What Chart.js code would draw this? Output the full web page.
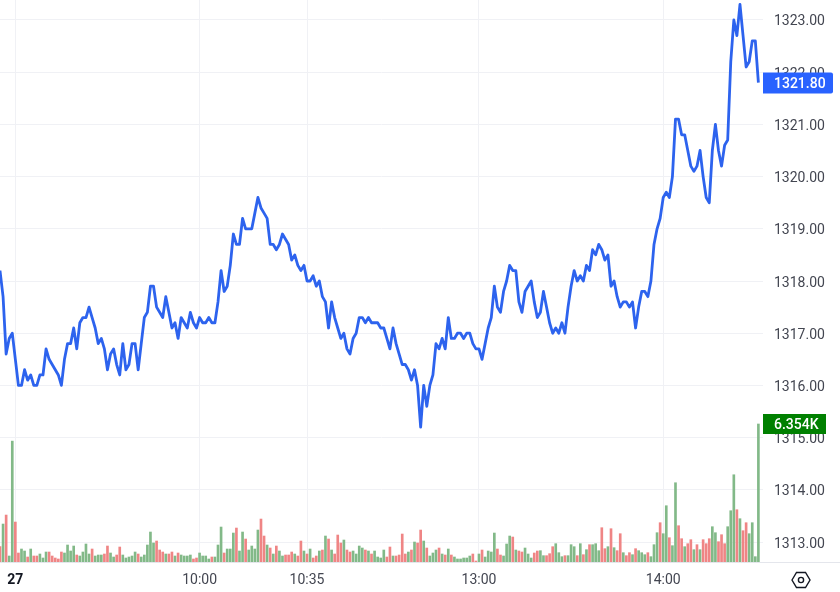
<!DOCTYPE html>
<html>
<head>
<meta charset="utf-8">
<style>
  html, body { margin: 0; padding: 0; background: #fff; }
  #wrap { width: 840px; height: 592px; }
</style>
<script src="https://cdn.jsdelivr.net/npm/chart.js@4/dist/chart.umd.min.js"></script>
</head>
<body>
<div id="wrap"><canvas id="chart" width="840" height="592"></canvas></div>
<script>
const prices = [
  1318.2,1317.7,1316.6,1316.9,1317.0,1316.5,1316.0,1316.0,1316.3,1316.1,
  1316.2,1316.0,1316.0,1316.2,1316.2,1316.7,1316.5,1316.4,1316.3,1316.2,
  1316.0,1316.5,1316.8,1316.8,1317.1,1316.7,1317.2,1317.3,1317.3,1317.5,
  1317.3,1317.1,1316.8,1316.9,1316.7,1316.3,1316.6,1316.7,1316.4,1316.2,
  1316.8,1316.3,1316.4,1316.8,1316.8,1316.3,1316.8,1317.3,1317.4,1317.9,
  1317.9,1317.5,1317.4,1317.3,1317.7,1317.4,1317.1,1317.2,1316.9,1317.3,
  1317.2,1317.1,1317.4,1317.2,1317.1,1317.3,1317.2,1317.2,1317.3,1317.2,
  1317.2,1317.6,1318.2,1317.8,1317.9,1318.3,1318.9,1318.7,1318.7,1319.2,
  1319.0,1319.0,1319.0,1319.3,1319.6,1319.4,1319.3,1319.2,1318.7,1318.7,
  1318.6,1318.7,1318.9,1318.8,1318.7,1318.4,1318.5,1318.3,1318.2,1318.3,
  1318.0,1318.0,1318.1,1317.9,1318.0,1317.7,1317.6,1317.1,1317.6,1317.3,
  1317.1,1316.9,1317.0,1316.7,1316.6,1316.9,1317.0,1317.3,1317.3,1317.2,
  1317.3,1317.2,1317.2,1317.2,1317.1,1317.1,1316.9,1316.7,1317.1,1316.8,
  1316.6,1316.4,1316.4,1316.3,1316.1,1316.3,1316.0,1315.2,1316.0,1315.6,
  1316.0,1316.2,1316.8,1316.7,1316.9,1316.7,1317.3,1316.9,1316.9,1317.0,
  1317.0,1316.9,1317.0,1317.0,1316.8,1316.7,1316.7,1316.5,1316.8,1317.1,
  1317.3,1317.9,1317.5,1317.4,1317.8,1318.0,1318.3,1318.2,1318.2,1317.6,
  1317.4,1317.8,1317.9,1318.0,1317.6,1317.3,1317.4,1317.8,1317.5,1317.2,
  1317.0,1317.1,1317.0,1317.2,1317.0,1317.5,1317.9,1318.2,1318.0,1318.1,
  1318.0,1318.3,1318.2,1318.6,1318.5,1318.7,1318.6,1318.4,1318.5,1317.9,
  1318.0,1317.7,1317.5,1317.6,1317.6,1317.5,1317.6,1317.1,1317.5,1317.8,
  1317.8,1317.7,1318.0,1318.7,1319.0,1319.2,1319.6,1319.7,1319.6,1320.0,
  1321.1,1321.1,1320.8,1320.8,1320.5,1320.2,1320.1,1320.2,1320.5,1320.0,
  1319.6,1319.5,1320.5,1321.0,1320.5,1320.2,1320.6,1320.7,1322.2,1323.0,
  1322.7,1323.3,1322.7,1322.1,1322.2,1322.6,1322.6,1321.8
];

const volumes = [
  705,1748,2162,276,5566,1840,414,598,506,230,
  598,276,276,368,184,460,460,276,184,138,
  460,414,782,506,736,322,276,460,828,368,
  598,276,322,322,368,736,414,230,322,690,
  322,184,230,276,460,368,230,322,782,1380,
  874,966,552,460,368,368,460,276,414,322,
  276,276,322,138,184,414,276,276,138,230,
  230,782,1610,414,598,598,1334,1564,506,1380,
  1058,552,736,598,1472,1978,1196,782,644,368,
  736,506,276,322,322,460,368,276,966,506,
  368,598,184,276,506,552,1196,1058,552,368,
  1242,874,1012,552,460,506,368,736,644,552,
  506,368,506,230,184,552,230,690,276,276,
  322,1288,368,460,552,920,874,1472,966,644,
  276,414,552,644,368,322,598,322,230,138,
  138,184,184,276,368,46,368,552,230,506,
  460,1334,598,322,276,828,1196,1150,552,506,
  460,644,368,184,414,506,521,291,291,383,
  705,843,429,245,291,291,797,705,291,843,
  337,567,797,797,843,521,1579,613,705,1533,
  659,521,1303,429,291,429,337,613,521,429,
  337,429,245,797,1349,1809,1303,2591,1119,751,
  3649,1671,1073,705,843,1027,567,797,567,1027,
  843,1073,1625,1349,935,1257,843,1625,2361,4017,
  2407,1993,1441,1809,1303,1809,245,6354
];

// 1 = green bar, 0 = red bar
const volumeUp = [
  0,1,0,1,1,0,0,1,1,0,
  1,0,0,1,1,1,0,0,0,0,
  0,1,1,1,1,0,1,1,1,1,
  0,1,1,1,0,0,1,1,0,0,
  1,1,1,1,1,0,1,1,1,1,
  1,0,0,0,1,0,0,1,0,1,
  1,1,1,0,0,1,1,1,1,0,
  1,1,1,0,1,1,1,0,1,1,
  0,1,1,1,1,0,0,1,0,1,
  0,1,1,0,0,0,1,0,0,1,
  0,1,0,0,1,0,1,0,1,0,
  0,0,1,0,0,1,1,1,1,0,
  1,0,1,1,1,1,0,0,1,0,
  0,0,0,1,0,1,0,0,1,0,
  1,1,1,0,1,0,1,0,1,1,
  1,1,1,1,0,0,1,0,1,1,
  1,1,0,0,1,1,1,0,1,0,
  0,1,1,1,0,0,1,1,0,0,
  0,1,1,1,0,1,1,1,0,1,
  0,1,0,1,1,1,0,0,1,0,
  1,0,0,1,0,0,1,0,1,1,
  1,0,1,1,1,0,1,1,0,1,
  1,0,0,1,0,0,1,0,1,0,
  0,0,1,1,0,0,0,1,1,1,
  0,1,0,0,1,1,1,1
];

const priceTicks = [1313, 1314, 1315, 1316, 1317, 1318, 1319, 1320, 1321, 1322, 1323];
const timeTickIndexes = [5, 65, 100, 156, 216];
const timeTickLabels = ['27', '10:00', '10:35', '13:00', '14:00'];

const lastPrice = prices[prices.length - 1];
const lastVolume = volumes[volumes.length - 1];
const lastVolumeLabel = '6.354K';

const LINE_COLOR = '#2d63ee';
const FONT = 'Roboto, sans-serif';

function drawTag(ctx, x, y, w, h, color, text, corners) {
  ctx.fillStyle = color;
  ctx.beginPath();
  ctx.roundRect(x, y - h / 2, w, h, corners);
  ctx.fill();
  ctx.fillStyle = '#fff';
  ctx.font = '500 14px ' + FONT;
  ctx.textAlign = 'left';
  ctx.textBaseline = 'middle';
  ctx.fillText(text, x + 11, y + 1);
}

const tradingOverlay = {
  id: 'tradingOverlay',
  beforeDatasetsDraw(chart) {
    const { ctx, chartArea } = chart;
    ctx.save();
    ctx.strokeStyle = '#e4e6ec';
    ctx.lineWidth = 1;
    ctx.beginPath();
    ctx.moveTo(0, chartArea.bottom + 0.5);
    ctx.lineTo(840, chartArea.bottom + 0.5);
    ctx.stroke();
    ctx.restore();
  },
  afterDraw(chart) {
    const { ctx, chartArea, scales } = chart;
    ctx.save();
    drawTag(ctx, chartArea.right, Math.round(scales.yVolume.getPixelForValue(lastVolume)), 63, 20, '#008000', lastVolumeLabel, 0);
    drawTag(ctx, chartArea.right, Math.round(scales.y.getPixelForValue(lastPrice)), 70, 21, '#2962ff', lastPrice.toFixed(2), [0, 2, 2, 0]);

    // settings hexagon at bottom right
    const cx = 801, cy = 580;
    ctx.strokeStyle = '#131722';
    ctx.lineWidth = 1.4;
    ctx.beginPath();
    ctx.moveTo(cx - 9, cy);
    ctx.lineTo(cx - 4.5, cy - 7.5);
    ctx.lineTo(cx + 4.5, cy - 7.5);
    ctx.lineTo(cx + 9, cy);
    ctx.lineTo(cx + 4.5, cy + 7.5);
    ctx.lineTo(cx - 4.5, cy + 7.5);
    ctx.closePath();
    ctx.stroke();
    ctx.beginPath();
    ctx.arc(cx, cy, 2.6, 0, Math.PI * 2);
    ctx.stroke();
    ctx.restore();
  }
};

new Chart(document.getElementById('chart'), {
  data: {
    datasets: [
      {
        type: 'line',
        data: prices.map((p, i) => ({ x: i, y: p })),
        yAxisID: 'y',
        order: 0,
        borderColor: LINE_COLOR,
        borderWidth: 2.8,
        borderJoinStyle: 'round',
        pointRadius: 0,
        tension: 0
      },
      {
        type: 'bar',
        data: volumes.map((v, i) => ({ x: i, y: v })),
        yAxisID: 'yVolume',
        order: 1,
        barThickness: 2,
        backgroundColor: ctx => volumeUp[ctx.dataIndex] ? '#82b988' : '#ef8585'
      }
    ]
  },
  options: {
    responsive: false,
    animation: false,
    layout: { padding: 0 },
    plugins: {
      legend: { display: false },
      tooltip: { enabled: false }
    },
    scales: {
      x: {
        type: 'linear',
        offset: false,
        min: 0,
        max: 248.5,
        afterBuildTicks: scale => {
          scale.ticks = timeTickIndexes.map(v => ({ value: v }));
        },
        afterFit: scale => {
          scale.height = 30;
          scale.paddingLeft = 0;
          scale.paddingRight = 0;
        },
        grid: { color: '#f0f1f5', drawTicks: false, offset: false },
        border: { display: false },
        ticks: {
          autoSkip: false,
          maxRotation: 0,
          padding: 10,
          color: c => c.index === 0 ? '#131722' : '#434651',
          font: c => ({ family: FONT, size: 14, weight: c.index === 0 ? 'bold' : 'normal' }),
          callback: (value, index) => timeTickLabels[index]
        }
      },
      y: {
        position: 'right',
        min: 1312.617,
        max: 1323.383,
        afterBuildTicks: scale => {
          scale.ticks = priceTicks.map(v => ({ value: v }));
        },
        afterFit: scale => {
          scale.width = 77;
          scale.paddingTop = 0;
          scale.paddingBottom = 0;
        },
        grid: { color: '#f0f1f5', drawTicks: false },
        border: { display: false },
        ticks: {
          padding: 11,
          labelOffset: 2,
          color: '#434651',
          font: { family: FONT, size: 14 },
          callback: value => value.toFixed(2)
        }
      },
      yVolume: {
        display: false,
        min: 0,
        max: 25876
      }
    }
  },
  plugins: [tradingOverlay]
});
</script>
</body>
</html>
